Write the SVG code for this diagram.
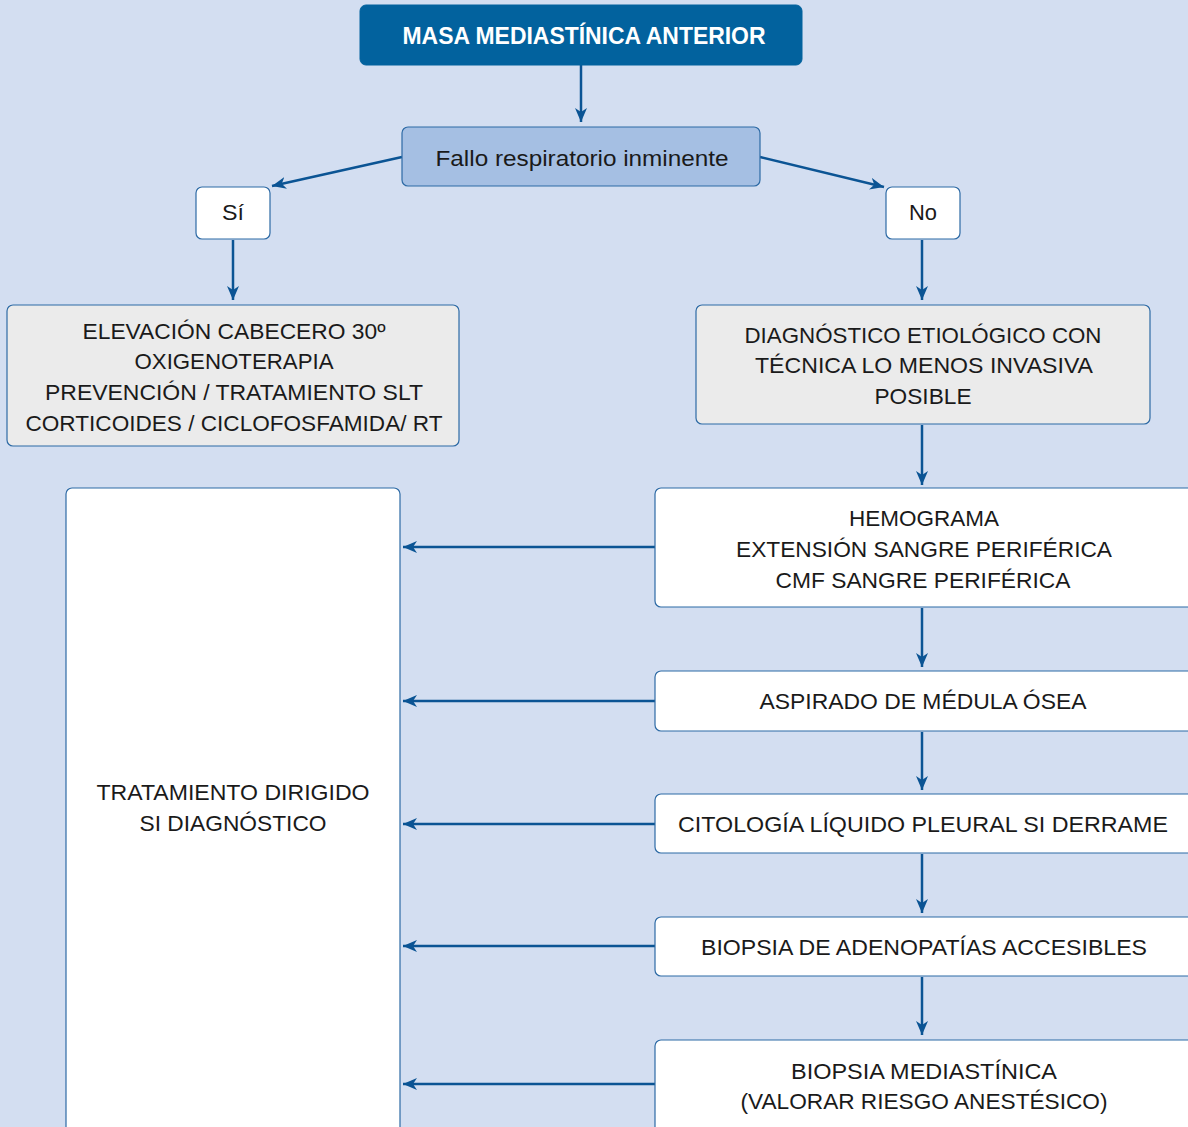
<svg xmlns="http://www.w3.org/2000/svg" width="1188" height="1127" viewBox="0 0 1188 1127">
<defs>
<marker id="ahb" viewBox="0 0 14 12" refX="14" refY="6" markerWidth="14" markerHeight="12" markerUnits="userSpaceOnUse" orient="auto">
<path d="M0,0 L14,6 L0,12 L4,6 Z" fill="#0b5494"/>
</marker>
</defs>
<style>
.bg{fill:#d3def1}
.box{stroke:#2d6aa5;stroke-width:1.2}
.w{fill:#ffffff}
.g{fill:#ebebeb}
text{font-family:"Liberation Sans",Arial,sans-serif;font-size:22px;fill:#1a1a1a;text-anchor:middle}
.title{fill:#ffffff;font-weight:bold;font-size:23px}
.c{stroke:#0b5494;stroke-width:2.5;fill:none;marker-end:url(#ahb)}
</style>
<rect class="bg" x="0" y="0" width="1188" height="1127"/>
<g id="connectors">
<line class="c" x1="581" y1="65" x2="581" y2="122"/>
<line class="c" x1="402" y1="157" x2="272" y2="186"/>
<line class="c" x1="760" y1="157" x2="884" y2="187"/>
<line class="c" x1="233" y1="240" x2="233" y2="300"/>
<line class="c" x1="922" y1="240" x2="922" y2="300"/>
<line class="c" x1="922" y1="425" x2="922" y2="485"/>
<line class="c" x1="922" y1="608" x2="922" y2="667"/>
<line class="c" x1="922" y1="732" x2="922" y2="790"/>
<line class="c" x1="922" y1="854" x2="922" y2="913"/>
<line class="c" x1="922" y1="977" x2="922" y2="1035"/>
<line class="c" x1="655" y1="547" x2="403" y2="547"/>
<line class="c" x1="655" y1="701" x2="403" y2="701"/>
<line class="c" x1="655" y1="824" x2="403" y2="824"/>
<line class="c" x1="655" y1="946" x2="403" y2="946"/>
<line class="c" x1="655" y1="1084" x2="403" y2="1084"/>
</g>
<g id="n-masa">
<rect x="360" y="5" width="442" height="60" rx="6" fill="#02629e" stroke="#02629e"/>
<text class="title" x="584" y="44" textLength="363" lengthAdjust="spacingAndGlyphs">MASA MEDIASTÍNICA ANTERIOR</text>
</g>
<g id="n-fallo">
<rect class="box" x="402" y="127" width="358" height="59" rx="6" fill="#a5bfe3"/>
<text x="582" y="166" textLength="293" lengthAdjust="spacingAndGlyphs">Fallo respiratorio inminente</text>
</g>
<g id="n-si">
<rect class="box w" x="196" y="187" width="74" height="52" rx="6"/>
<text x="233" y="220" textLength="22" lengthAdjust="spacingAndGlyphs">Sí</text>
</g>
<g id="n-no">
<rect class="box w" x="886" y="187" width="74" height="52" rx="6"/>
<text x="923" y="220" textLength="28" lengthAdjust="spacingAndGlyphs">No</text>
</g>
<g id="n-elevacion">
<rect class="box g" x="7" y="305" width="452" height="141" rx="6"/>
<text x="234" y="339" textLength="303" lengthAdjust="spacingAndGlyphs">ELEVACIÓN CABECERO 30º</text>
<text x="234" y="369" textLength="199" lengthAdjust="spacingAndGlyphs">OXIGENOTERAPIA</text>
<text x="234" y="400" textLength="378" lengthAdjust="spacingAndGlyphs">PREVENCIÓN / TRATAMIENTO SLT</text>
<text x="234" y="431" textLength="417" lengthAdjust="spacingAndGlyphs">CORTICOIDES / CICLOFOSFAMIDA/ RT</text>
</g>
<g id="n-diagnostico">
<rect class="box g" x="696" y="305" width="454" height="119" rx="6"/>
<text x="923" y="343" textLength="357" lengthAdjust="spacingAndGlyphs">DIAGNÓSTICO ETIOLÓGICO CON</text>
<text x="924" y="373" textLength="338" lengthAdjust="spacingAndGlyphs">TÉCNICA LO MENOS INVASIVA</text>
<text x="923" y="404" textLength="97" lengthAdjust="spacingAndGlyphs">POSIBLE</text>
</g>
<g id="n-tratamiento">
<rect class="box w" x="66" y="488" width="334" height="650" rx="6"/>
<text x="233" y="800" textLength="273" lengthAdjust="spacingAndGlyphs">TRATAMIENTO DIRIGIDO</text>
<text x="233" y="831" textLength="187" lengthAdjust="spacingAndGlyphs">SI DIAGNÓSTICO</text>
</g>
<g id="n-hemograma">
<rect class="box w" x="655" y="488" width="545" height="119" rx="6"/>
<text x="924" y="526" textLength="150" lengthAdjust="spacingAndGlyphs">HEMOGRAMA</text>
<text x="924" y="557" textLength="376" lengthAdjust="spacingAndGlyphs">EXTENSIÓN SANGRE PERIFÉRICA</text>
<text x="923" y="588" textLength="295" lengthAdjust="spacingAndGlyphs">CMF SANGRE PERIFÉRICA</text>
</g>
<g id="n-aspirado">
<rect class="box w" x="655" y="671" width="545" height="60" rx="6"/>
<text x="923" y="709" textLength="327" lengthAdjust="spacingAndGlyphs">ASPIRADO DE MÉDULA ÓSEA</text>
</g>
<g id="n-citologia">
<rect class="box w" x="655" y="794" width="545" height="59" rx="6"/>
<text x="923" y="832" textLength="490" lengthAdjust="spacingAndGlyphs">CITOLOGÍA LÍQUIDO PLEURAL SI DERRAME</text>
</g>
<g id="n-adenopatias">
<rect class="box w" x="655" y="917" width="545" height="59" rx="6"/>
<text x="924" y="955" textLength="446" lengthAdjust="spacingAndGlyphs">BIOPSIA DE ADENOPATÍAS ACCESIBLES</text>
</g>
<g id="n-mediastinica">
<rect class="box w" x="655" y="1040" width="545" height="100" rx="6"/>
<text x="924" y="1079" textLength="266" lengthAdjust="spacingAndGlyphs">BIOPSIA MEDIASTÍNICA</text>
<text x="924" y="1109" textLength="367" lengthAdjust="spacingAndGlyphs">(VALORAR RIESGO ANESTÉSICO)</text>
</g>
</svg>
